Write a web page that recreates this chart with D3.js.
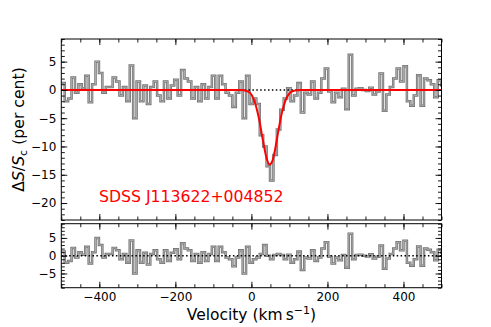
<!DOCTYPE html>
<html>
<head>
<meta charset="utf-8">
<script src="https://cdn.jsdelivr.net/npm/d3@7"></script>
<style>
body { margin: 0; background: #fff; }
text { font-family: "DejaVu Sans", sans-serif; }
</style>
</head>
<body>
<svg id="fig" width="491" height="327"></svg>
<script>
// spectrum in per cent, 9 km/s bins from -500
var binStart = -500, binWidth = 9;
var flux = [1.2, -2, -1.5, 2.2, -0.5, 1.0, 0.3, 2.5, -2.2, 1.0,
	5.0, 3.0, -0.5, 0.5, 0.5, 2.2, 1.5, -1.0, 0.5, -2.0,
	4.3, -5.0, 1.5, -2.0, 0.8, -2.5, 0.5, 1.5, -1.0, -2.0,
	1.5, -1.5, 0.8, 1.8, -1.0, 3.5, 2.0, 1.5, -1.5, 0.5,
	-2.0, 1.0, -1.5, 0.5, 2.5, -1.5, 2.5, 1.0, -0.5, -1.0,
	-3.0, -0.5, 1.5, -5.0, 2.5, -2.5, -1.5, -2.5, -8.0, -10.0,
	-13.5, -16.0, -11.5, -7.0, -3.5, -1.5, 0.3, -2.0, -1.0, 1.2,
	-4.0, -0.5, -0.8, 1.5, -1.5, -0.5, 2.0, 3.8, -0.3, -2.2,
	-0.5, -1.3, 0.2, -3.4, 6.2, -1.0, 0.2, 0.3, 0.0, -0.2,
	0.4, -0.8, -0.3, 2.9, -3.7, -0.8, 0.5, 2.0, 3.8, 1.5,
	4.2, -2.0, -2.8, -1.0, 2.6, -2.8, 2.0, 1.7, 1.0, -1.3,
	1.7, 0.8];

// residuals only differ from the spectrum across the line (bins 55-66)
var residStart = 55;
var residCore = [-2.0, -1.0, -0.5, 0.5, 3.0, 0.0, -1.0, 0.2, 0.5, 0.2, -1.0, 0.3];

// gaussian fit
var fitVel = [-500, -30, -20, -10, 0, 10, 20, 30, 40, 48, 55, 60, 70, 80, 90, 100, 110, 120, 130, 500];
var fitVal = [0, 0, -0.05, -0.25, -0.8, -2.4, -5.1, -8.8, -12.1, -13.2, -12.6, -11.3, -7.6, -4.1, -1.8, -0.6, -0.2, -0.05, 0, 0];

var xTicks = [-400, -200, 0, 200, 400];
var yTicksTop = [-20, -15, -10, -5, 0, 5];
var yTicksBot = [-5, 0, 5];
var label = "SDSS J113622+004852";

var resid = flux.slice(0, residStart).concat(residCore, flux.slice(residStart + residCore.length));

var svg = d3.select("#fig");
var left = 61.3, right = 441.5;
var topP = {y0: 39, y1: 220, dom: [-23, 9]};
var botP = {y0: 223.7, y1: 287.7, dom: [-9, 9]};

var x = d3.scaleLinear().domain([-500, 500]).range([left, right]);
var xMinor = d3.range(-500, 501, 50);

// step path built from bin edges
var stepLine = function (y, vals) {
	var pts = vals.map(function (v, i) { return [binStart + i * binWidth, v]; });
	pts.push([binStart + vals.length * binWidth, vals[vals.length - 1]]);
	return d3.line()
		.x(function (d) { return x(d[0]); })
		.y(function (d) { return y(d[1]); })
		.curve(d3.curveStepAfter)(pts);
};

var drawPanel = function (p, id, vals, yTicks, withFit, withXLabels) {
	var y = d3.scaleLinear().domain(p.dom).range([p.y1, p.y0]);
	var g = svg.append("g");

	svg.append("clipPath").attr("id", id)
		.append("rect").attr("x", left).attr("y", p.y0)
		.attr("width", right - left).attr("height", p.y1 - p.y0);

	var plot = g.append("g").attr("clip-path", "url(#" + id + ")");

	plot.append("path").attr("d", stepLine(y, vals))
		.attr("fill", "none").attr("stroke", "#747474").attr("stroke-width", 2.5);
	plot.append("path").attr("d", stepLine(y, vals))
		.attr("fill", "none").attr("stroke", "#acacac").attr("stroke-width", 1.0);

	plot.append("line")
		.attr("x1", left).attr("x2", right)
		.attr("y1", y(0)).attr("y2", y(0))
		.attr("stroke", "#000").attr("stroke-width", 1.5)
		.attr("stroke-dasharray", "1.5,2.4");

	if (withFit) {
		var pts = fitVel.map(function (v, i) { return [v, fitVal[i]]; });
		plot.append("path")
			.attr("d", d3.line()
				.x(function (d) { return x(d[0]); })
				.y(function (d) { return y(d[1]); })
				.curve(d3.curveMonotoneX)(pts))
			.attr("fill", "none").attr("stroke", "#ff0000").attr("stroke-width", 2);
	}

	var yMinor = d3.range(Math.ceil(p.dom[0]), Math.floor(p.dom[1]) + 1);

	// inward ticks on all four sides
	var axes = [
		[d3.axisBottom(x).tickValues(xTicks), p.y1, 0, true],
		[d3.axisBottom(x).tickValues(xMinor), p.y1, 0, false],
		[d3.axisTop(x).tickValues(xTicks), p.y0, 0, true],
		[d3.axisTop(x).tickValues(xMinor), p.y0, 0, false],
		[d3.axisLeft(y).tickValues(yTicks), 0, left, true],
		[d3.axisLeft(y).tickValues(yMinor), 0, left, false],
		[d3.axisRight(y).tickValues(yTicks), 0, right, true],
		[d3.axisRight(y).tickValues(yMinor), 0, right, false]
	];
	axes.forEach(function (a, k) {
		var ax = a[0].tickSize(a[3] ? -6 : -3.5).tickPadding(5);
		var showLabels = a[3] && (k == 4 || (k == 0 && withXLabels));
		if (!showLabels) { ax.tickFormat(""); }
		var ag = g.append("g").attr("transform", "translate(" + a[2] + "," + a[1] + ")").call(ax);
		ag.select(".domain").remove();
		ag.selectAll("line").attr("stroke", "#000").attr("stroke-width", 0.9);
		ag.selectAll("text").attr("fill", "#000").style("font-size", "12px")
			.style("font-family", "DejaVu Sans");
	});

	g.append("rect").attr("x", left).attr("y", p.y0)
		.attr("width", right - left).attr("height", p.y1 - p.y0)
		.attr("fill", "none").attr("stroke", "#000").attr("stroke-width", 1);
	return y;
};

drawPanel(topP, "clipTop", flux, yTicksTop, true, false);
drawPanel(botP, "clipBot", resid, yTicksBot, false, true);

svg.append("text")
	.attr("x", 99).attr("y", 201.5)
	.attr("fill", "#ff0000")
	.style("font-size", "15.7px")
	.text(label);

// x label
var xl = svg.append("text")
	.attr("x", (left + right) / 2).attr("y", 320)
	.attr("text-anchor", "middle")
	.style("font-size", "15.5px");
xl.append("tspan").text("Velocity (km\u2009s");
xl.append("tspan").attr("dy", -6).style("font-size", "11px").text("\u22121");
xl.append("tspan").attr("dy", 6).text(")");

// y label
var yl = svg.append("text")
	.attr("transform", "translate(24," + ((topP.y0 + topP.y1) / 2) + ") rotate(-90)")
	.attr("text-anchor", "middle")
	.style("font-size", "15.7px");
yl.append("tspan").text("\u0394");
yl.append("tspan").style("font-style", "italic").text("S");
yl.append("tspan").text("/");
yl.append("tspan").style("font-style", "italic").text("S");
yl.append("tspan").attr("dy", 3).style("font-size", "11px").text("c");
yl.append("tspan").attr("dy", -3).text(" (per cent)");
</script>
</body>
</html>
